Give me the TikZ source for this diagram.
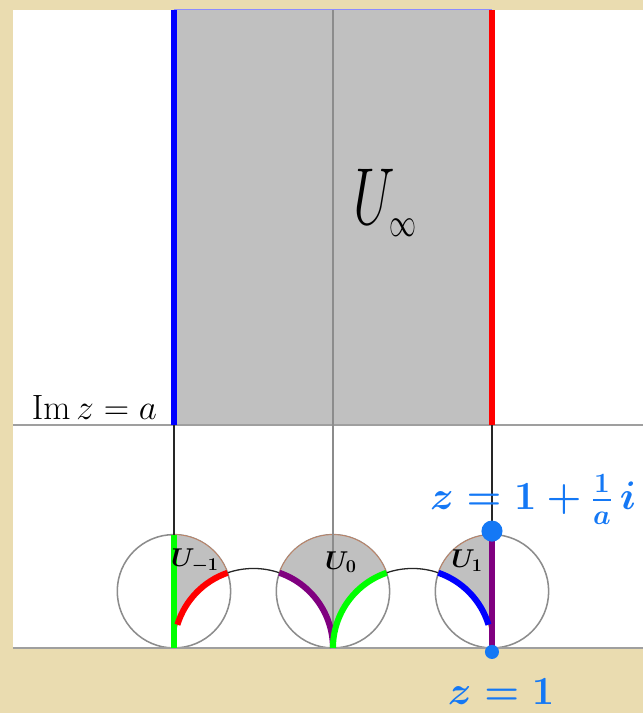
\documentclass[tikz,border=0pt]{standalone}
\usepackage{fix-cm}
\usepackage{amsmath, amssymb}
\usepackage{xcolor}
\usepackage{tikz}
\usetikzlibrary{positioning}

\definecolor{paper}{RGB}{234,220,176}
\definecolor{regiongray}{RGB}{192,192,192}
\definecolor{penblue}{RGB}{20,120,245}
\definecolor{rimbrown}{RGB}{190,130,100}
\definecolor{purp}{RGB}{128,0,128}

\begin{document}
\begin{tikzpicture}[
    x=4.77cm, y=4.77cm,
    region/.style={fill=regiongray, draw=rimbrown, line width=0.7pt},
    fordcirc/.style={draw=gray!90, line width=1.3pt},
    axisline/.style={draw=gray!75, line width=1.4pt},
    thinline/.style={draw=black!85, line width=1.1pt},
    edge/.style={line width=5.2pt},
    hand/.style={font=\fontsize{22}{24}\selectfont\boldmath, inner sep=1pt},
    bluelab/.style={text=penblue, font=\fontsize{34}{36}\selectfont\boldmath, inner sep=1pt},
    dot/.style={circle, fill=penblue, inner sep=0pt}
]

% paper and sheet
\fill[paper] (-2.094,-0.409) rectangle (1.950,4.075);
\useasboundingbox (-2.094,-0.409) rectangle (1.950,4.075);
\fill[white] (-2.013,0) rectangle (1.950,4.013);

% strip above Im z = a
\fill[regiongray] (-1,1.4025) rectangle (1,4.013);
\draw[blue!45, line width=0.8pt] (-1,4.013) -- (1,4.013);

% circles tangent at -1, 0, 1
\foreach \k in {-1,0,1}
    \draw[fordcirc] (\k,0.3565) circle[radius=0.3565];

% shaded pieces inside the circles
\path[region] (-1,0) -- (-1,0.7130) arc[start angle=90, end angle=19.02, radius=0.3565]
    arc[start angle=109.02, end angle=180, radius=0.5] -- cycle;
\path[region] (0,0) arc[start angle=180, end angle=109.02, radius=0.5]
    arc[start angle=19.02, end angle=160.98, radius=0.3565]
    arc[start angle=70.98, end angle=0, radius=0.5] -- cycle;
\path[region] (1,0) -- (1,0.7130) arc[start angle=90, end angle=160.98, radius=0.3565]
    arc[start angle=70.98, end angle=0, radius=0.5] -- cycle;

% Im z = a and real axis
\draw[axisline] (-2.013,1.4025) -- (1.950,1.4025);
\draw[axisline] (-2.013,0) -- (1.950,0);
\draw[draw=gray!90, line width=1.1pt] (0,0) -- (0,4.013);

% thin black pieces
\draw[thinline] (-1,1.4025) -- (-1,0.7130);
\draw[thinline] (1,1.4025) -- (1,0.7130);
\draw[thinline] (-0.5,0) ++(70.98:0.5) arc[start angle=70.98, end angle=109.02, radius=0.5];
\draw[thinline] (0.5,0) ++(70.98:0.5) arc[start angle=70.98, end angle=109.02, radius=0.5];

% coloured edges
\draw[edge, blue] (-1,1.4025) -- (-1,4.013);
\draw[edge, red] (1,1.4025) -- (1,4.013);
\draw[edge, green] (-1,0) -- (-1,0.7130);
\draw[edge, purp] (1,0) -- (1,0.7130);
\draw[edge, red] (-0.5,0) ++(109.02:0.5) arc[start angle=109.02, end angle=163, radius=0.5];
\draw[edge, purp] (-0.5,0) ++(70.98:0.5) arc[start angle=70.98, end angle=0, radius=0.5];
\draw[edge, green] (0.5,0) ++(109.02:0.5) arc[start angle=109.02, end angle=180, radius=0.5];
\draw[edge, blue] (0.5,0) ++(70.98:0.5) arc[start angle=70.98, end angle=17, radius=0.5];

% marked points
\node[dot, minimum size=18pt] (top) at (1,0.735) {};
\node[dot, minimum size=12pt] (base) at (1,-0.025) {};

% labels
\node[font=\fontsize{46}{50}\selectfont, yscale=1.5, transform shape] (uinf) at (0.327,2.80)
    {$U_{\scriptscriptstyle\infty}$};
\node[font=\fontsize{30}{32}\selectfont, anchor=base] (imline) at (-1.500,1.435) {$\mathrm{Im}\,z=a$};
\node[hand] (um) at (-0.868,0.547) {$U_{-1}$};
\node[hand] (uz) at (0.050,0.540) {$U_0$};
\node[hand] (up) at (0.843,0.547) {$U_1$};
\node[bluelab] (toplab) at (1.258,0.931) {$z=1+\frac{1}{a}\,i$};
\node[bluelab] (baselab) at (1.057,-0.277) {$z=1$};

\end{tikzpicture}
\end{document}
